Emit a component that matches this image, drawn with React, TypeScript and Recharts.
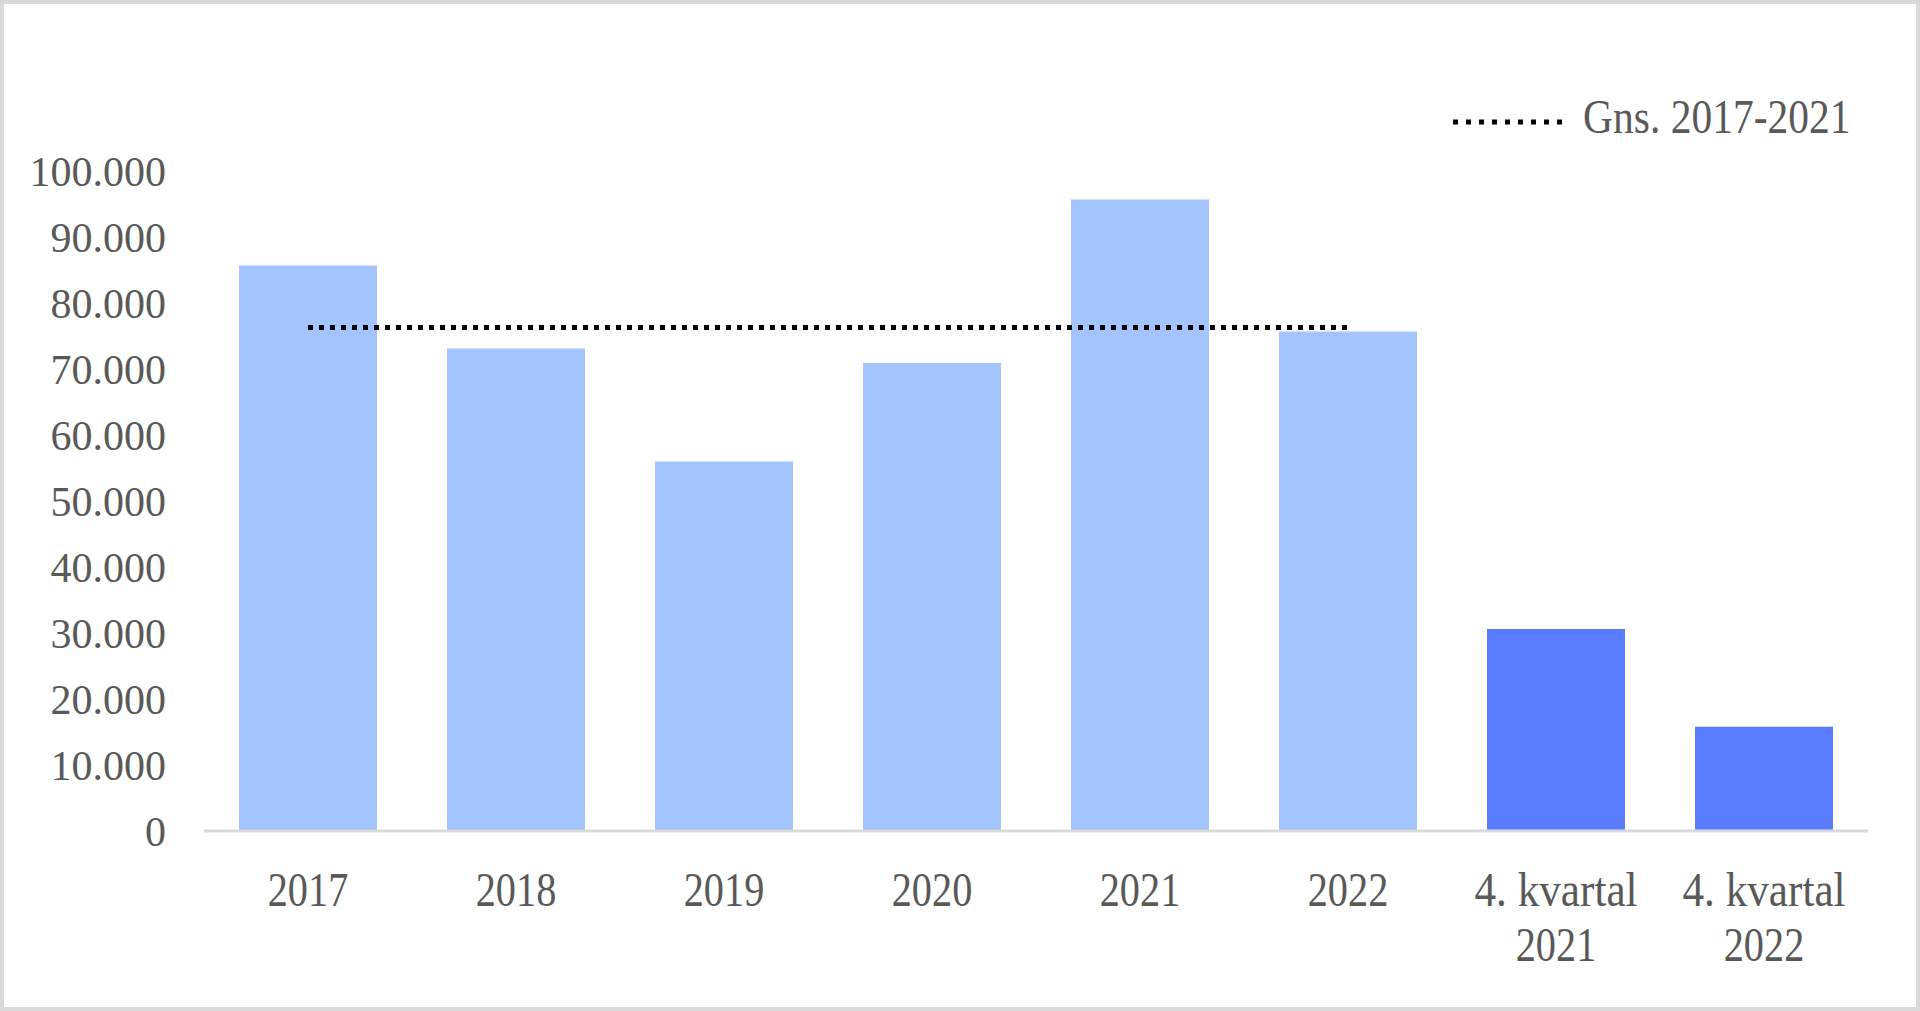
import React from "react";
import { ComposedChart, Bar, Line, XAxis, YAxis, Legend, Cell } from "recharts";

const categories = ["2017", "2018", "2019", "2020", "2021", "2022", "4. kvartal\n2021", "4. kvartal\n2022"];
const antal = [85700, 73100, 56000, 70900, 95700, 75700, 30600, 15800];
const gennemsnit = [76300, 76300, 76300, 76300, 76300, 76300, null, null];
const yTicks = [0, 10000, 20000, 30000, 40000, 50000, 60000, 70000, 80000, 90000, 100000];

const data = categories.map((c, i) => ({ name: c, antal: antal[i], gns: gennemsnit[i] }));

const FONT = "'Liberation Serif', 'DejaVu Serif', serif";
const TEXT = "#595959";

const fmt = (v: number) => (v === 0 ? "0" : v.toLocaleString("da-DK"));

// eslint-disable-next-line @typescript-eslint/no-explicit-any
function XTick({ x, y, payload }: any) {
  const lines = String(payload.value).split("\n");
  return (
    <g transform={`translate(${x},${y})`}>
      {lines.map((l: string, i: number) => (
        <text
          key={i}
          transform={`translate(0,${75 + i * 55}) scale(${l.length > 4 ? 0.9 : 0.84},1)`}
          textAnchor="middle"
          fill={TEXT}
          fontFamily={FONT}
          fontSize={48}
        >
          {l}
        </text>
      ))}
    </g>
  );
}

// eslint-disable-next-line @typescript-eslint/no-explicit-any
function LegendContent({ payload }: any) {
  const item = payload?.find((p: any) => p.dataKey === "gns");
  return (
    <svg width={460} height={80}>
      <line x1={3} x2={118} y1={37} y2={37} stroke="#000" strokeWidth={5} strokeDasharray="5 8" />
      <text transform="translate(133,48) scale(0.865,1)" fill={TEXT} fontFamily={FONT} fontSize={48}>
        {item ? item.value : "Gns. 2017-2021"}
      </text>
    </svg>
  );
}

export default function App() {
  return (
    <div
      style={{
        position: "absolute",
        left: 0,
        top: 0,
        width: 1920,
        height: 1011,
        background: "#fff",
        boxShadow: "inset 0 0 0 4px #d9d9d9",
      }}
    >
      <ComposedChart
        width={1920}
        height={1011}
        data={data}
        margin={{ top: 171, right: 52, left: 0, bottom: 0 }}
      >
        <XAxis
          dataKey="name"
          interval={0}
          height={180}
          tickLine={false}
          tickSize={0}
          tickMargin={0}
          axisLine={{ stroke: "#d9d9d9", strokeWidth: 3 }}
          tick={<XTick />}
        />
        <YAxis
          width={204}
          domain={[0, 100000]}
          ticks={yTicks}
          interval={0}
          axisLine={false}
          tickLine={false}
          tickSize={0}
          tickMargin={38}
          tickFormatter={fmt}
          tick={{ fill: TEXT, fontFamily: FONT, fontSize: 42 }}
        />
        <Legend
          layout="horizontal"
          verticalAlign="middle"
          align="center"
          content={<LegendContent />}
          wrapperStyle={{ top: 85, left: 1450, width: 460, height: 80 }}
        />
        <Bar dataKey="antal" name="Antal" barSize={138} isAnimationActive={false} legendType="none">
          {data.map((d, i) => (
            <Cell key={d.name} fill={i >= 6 ? "#5a7dff" : "#a3c4ff"} />
          ))}
        </Bar>
        <Line
          dataKey="gns"
          name="Gns. 2017-2021"
          stroke="#000"
          strokeWidth={5}
          strokeDasharray="5 6"
          dot={false}
          activeDot={false}
          isAnimationActive={false}
        />
      </ComposedChart>
    </div>
  );
}
